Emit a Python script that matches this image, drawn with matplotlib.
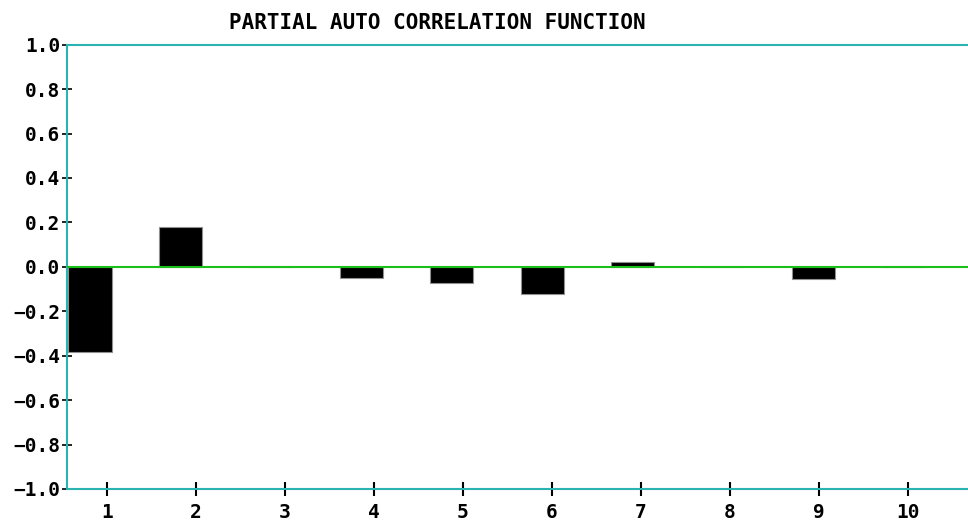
import matplotlib
matplotlib.use('Agg')
import matplotlib.pyplot as plt
import numpy as np

# Data
lags = [1, 2, 3, 4, 5, 6, 7, 8, 9, 10]
pacf = [-0.385, 0.178, 0.0, -0.05, -0.073, -0.121, 0.02, 0.0, -0.056, 0.0]
y_ticks = [-1.0, -0.8, -0.6, -0.4, -0.2, 0.0, 0.2, 0.4, 0.6, 0.8, 1.0]
title = 'PARTIAL AUTO CORRELATION FUNCTION'

spine_color = '#2ab3b0'
zero_color = '#18c018'
font = 'DejaVu Sans Mono'

fig = plt.figure(figsize=(9.68, 5.24), dpi=100)
ax = fig.add_axes([0.0692, 0.0668, 0.9308, 0.8479])

# bars sit just left of their tick, drawn from the left edge
lefts = 0.571 + (np.array(lags) - 1) * 1.0152
ax.bar(lefts, pacf, width=0.483, align='edge', color='black',
       edgecolor='#909090', linewidth=0.8, zorder=2)

ax.axhline(0, color=zero_color, linewidth=1.5, zorder=3)

ax.set_xlim(0.554, 10.672)
ax.set_ylim(-1.0, 1.0)
ax.set_xticks(lags)
ax.set_xticklabels([str(l) for l in lags])
ax.set_yticks(y_ticks)
ax.set_yticklabels([f'{v:.1f}'.replace('-', '\u2212') for v in y_ticks])

for side in ['left', 'top', 'bottom']:
    ax.spines[side].set_color(spine_color)
    ax.spines[side].set_linewidth(1.5)
ax.spines['right'].set_visible(False)

ax.tick_params(axis='y', direction='inout', length=7.5, width=1.2,
               color='black', pad=1)
ax.tick_params(axis='x', direction='inout', length=10, width=1.5,
               color='black', pad=5)
for lbl in ax.get_xticklabels() + ax.get_yticklabels():
    lbl.set_fontfamily(font)
    lbl.set_fontweight('bold')
    lbl.set_fontsize(14)

fig.text(437 / 968, 1 - 23 / 524, title, ha='center', va='center',
         fontfamily=font, fontweight='bold', fontsize=15)

fig.savefig('out.png', dpi=100)
